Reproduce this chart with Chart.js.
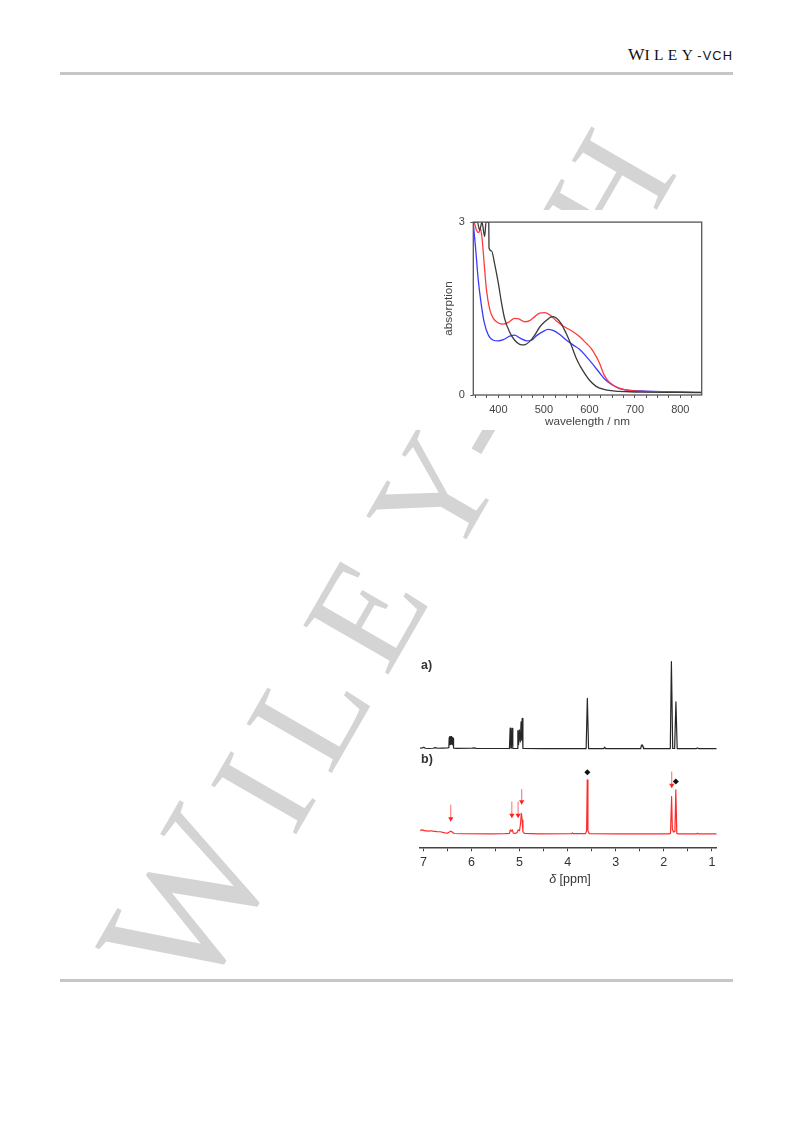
<!DOCTYPE html>
<html>
<head>
<meta charset="utf-8">
<script src="https://cdn.jsdelivr.net/npm/chart.js@4.4.1/dist/chart.umd.min.js"></script>
<style>
  html, body { margin:0; padding:0; background:#fff; }
  body { width:793px; height:1121px; position:relative; overflow:hidden; font-family:'Liberation Sans', Arial, sans-serif; }
  .rule { position:absolute; left:60px; width:673px; height:2.5px; background:#c6c6c6; }
  #header { position:absolute; right:60px; top:44px; white-space:nowrap; color:#111; line-height:20px; }
  #header .w { font-family:'Liberation Serif', 'Times New Roman', serif; font-size:17.5px; }
  #header .s { font-family:'Liberation Serif', 'Times New Roman', serif; font-size:15.5px; letter-spacing:4.4px; }
  #header .v { font-family:'Liberation Sans', Arial, sans-serif; font-size:12.8px; letter-spacing:1.1px; }
  #wm { position:absolute; left:197px; top:1006px; transform-origin:0 0; transform:rotate(-60deg); z-index:0; }
  #wm div { position:absolute; left:0; top:-125.6px; font-family:'Liberation Serif', 'Times New Roman', serif; font-size:150px; line-height:150px; letter-spacing:10px; color:#d4d4d4; white-space:nowrap; }
  #wm .big { font-size:180px; line-height:0; }
  canvas { position:absolute; background:#fff; z-index:1; }
  #uv { left:400px; top:210px; }
  #nmr { left:405px; top:650px; }
  .lab { position:absolute; z-index:2; font-family:'Liberation Sans', Arial, sans-serif; color:#333; font-size:12.5px; font-weight:bold; }
  #nmrTitle { position:absolute; z-index:2; left:520px; width:100px; text-align:center; top:872px; font-family:'Liberation Sans', Arial, sans-serif; font-size:12.5px; color:#333; }
</style>
</head>
<body>
<div id="header"><span class="w">W</span><span class="s">ILEY</span><span class="v">-VCH</span></div>
<div class="rule" style="top:72px"></div>
<div class="rule" style="top:979px"></div>
<div id="wm"><div><span class="big" style="margin-right:13px">W</span><span style="margin-right:12px">I</span><span style="margin-right:12px">L</span><span style="margin-right:27px">E</span><span style="margin-right:-11px">Y</span><span style="margin-right:-16px">-</span><span style="margin-right:-16px">V</span><span style="margin-right:-16px">C</span><span>H</span></div></div>

<canvas id="uv" width="320" height="220"></canvas>
<canvas id="nmr" width="320" height="245"></canvas>
<div class="lab" style="left:421px; top:658px;">a)</div>
<div class="lab" style="left:421px; top:752px;">b)</div>
<div id="nmrTitle"><i>δ</i> [ppm]</div>

<script>
// ---------- UV-vis data: [wavelength nm, absorption] ----------
const uvBlack = [[345,3],[354,3],[359,2.86],[364,3],[370,2.75],[373,3],[379,3],[379.5,2.55],[385,2.5],[392,2.27],[400,1.94],[407,1.6],[414,1.32],[425,1.09],[436,0.95],[447,0.88],[457,0.87],[469,0.93],[480,1.04],[491,1.18],[502,1.27],[508,1.31],[515,1.35],[521,1.36],[528,1.33],[538,1.24],[549,1.07],[560,0.87],[571,0.64],[580,0.5],[590,0.37],[600,0.26],[615,0.15],[630,0.1],[652,0.07],[688,0.056],[720,0.05],[800,0.045],[847,0.04]];
const uvRed = [[347,3],[352,2.86],[357,2.82],[361,2.88],[365,2.66],[369,2.27],[374,1.82],[381,1.49],[389,1.33],[400,1.25],[411,1.23],[422,1.26],[436,1.33],[445,1.32],[458,1.27],[469,1.29],[480,1.36],[491,1.42],[502,1.43],[513,1.39],[527,1.29],[546,1.18],[560,1.12],[579,1.01],[593,0.9],[604,0.81],[615,0.67],[622,0.56],[633,0.34],[644,0.22],[659,0.14],[677,0.095],[695,0.073],[761,0.056],[847,0.045]];
const uvBlue = [[345,2.97],[350,2.55],[356,1.99],[362,1.6],[369,1.26],[378,1.04],[389,0.95],[400,0.94],[411,0.96],[425,1.02],[436,1.04],[447,0.99],[462,0.94],[473,0.95],[484,1.03],[498,1.1],[509,1.14],[520,1.12],[535,1.05],[550,0.95],[564,0.87],[579,0.79],[593,0.67],[608,0.53],[622,0.39],[637,0.25],[652,0.17],[666,0.11],[685,0.084],[725,0.067],[847,0.045]];
const uvXTicks = [350,375,400,425,450,475,500,525,550,575,600,625,650,675,700,725,750,775,800,825];
const uvXLabels = [400,500,600,700,800];
const uvYTicks = [0,3];

// ---------- 1H NMR data: [ppm, intensity] ----------
const nmrTraceA = [[7.07,0.01],[7.02,0.012],[6.99,0.02],[6.96,0.008],[6.9,0.005],[6.8,0.008],[6.75,0.015],[6.7,0.008],[6.6,0.01],[6.5,0.012],
  [6.47,0.015],[6.463,0.13],[6.456,0.05],[6.449,0.14],[6.442,0.06],[6.435,0.14],[6.428,0.05],[6.421,0.14],[6.414,0.06],[6.407,0.14],[6.4,0.05],[6.393,0.13],[6.386,0.05],[6.38,0.12],[6.372,0.01],
  [6.3,0.006],[6.0,0.008],[5.95,0.012],[5.9,0.006],[5.5,0.005],
  [5.21,0.005],[5.195,0.24],[5.18,0.01],[5.17,0.01],[5.152,0.235],[5.14,0.005],
  [5.05,0.005],[5.035,0.21],[5.02,0.05],[5.005,0.22],[4.985,0.08],[4.968,0.31],[4.955,0.1],[4.945,0.35],[4.93,0.005],
  [4.5,0.004],[3.615,0.004],[3.59,0.58],[3.565,0.004],
  [3.25,0.004],[3.23,0.02],[3.21,0.004],
  [2.48,0.004],[2.465,0.045],[2.455,0.035],[2.445,0.046],[2.43,0.02],[2.42,0.004],
  [1.865,0.004],[1.842,1.0],[1.815,0.005],[1.775,0.005],[1.748,0.54],[1.722,0.004],
  [1.32,0.004],[1.3,0.012],[1.28,0.004],[0.9,0.004]];
const nmrTraceB = [[7.07,0.045],[7.02,0.05],[6.98,0.04],[6.9,0.035],[6.85,0.04],[6.8,0.035],[6.72,0.03],[6.65,0.028],[6.55,0.015],[6.5,0.012],[6.46,0.025],[6.43,0.035],[6.4,0.025],[6.36,0.008],[6.2,0.005],[5.6,0.004],[5.3,0.006],
  [5.21,0.01],[5.19,0.05],[5.17,0.035],[5.15,0.05],[5.13,0.012],[5.08,0.01],[5.05,0.02],[5.03,0.05],[5.0,0.04],[4.98,0.12],[4.962,0.24],[4.945,0.16],[4.93,0.03],[4.9,0.01],
  [4.6,0.004],[3.92,0.006],[3.9,0.015],[3.88,0.006],[3.63,0.006],[3.605,0.04],[3.592,0.622],[3.578,0.04],[3.55,0.006],
  [3.0,0.003],[2.5,0.003],[1.9,0.004],[1.86,0.01],[1.838,0.43],[1.822,0.06],[1.8,0.025],[1.78,0.03],[1.768,0.05],[1.75,0.507],[1.73,0.01],[1.7,0.004],
  [1.32,0.004],[1.3,0.01],[1.28,0.004],[0.9,0.004]];
const nmrXTicks = [1,1.5,2,2.5,3,3.5,4,4.5,5,5.5,6,6.5,7];
const nmrArrows = [[6.43,0.337,0.144],[5.16,0.374,0.183],[5.03,0.374,0.183],[4.955,0.517,0.337],[1.835,0.718,0.527]]; // [ppm, top, tip]
const nmrDiamonds = [[3.59,0.71],[1.75,0.605]];
const nmrOffsetA = 0.977;

Chart.defaults.font.family = "'Liberation Sans', Arial, sans-serif";

const xy = arr => arr.map(([x, y]) => ({x, y}));

// ---------- UV-vis chart ----------
const uvFrame = {
  id: 'uvFrame',
  afterDatasetsDraw(chart) {
    const {ctx, chartArea: a} = chart;
    ctx.save();
    ctx.strokeStyle = '#555';
    ctx.lineWidth = 1.3;
    ctx.strokeRect(a.left, a.top, a.right - a.left, a.bottom - a.top);
    ctx.restore();
  }
};

new Chart(document.getElementById('uv'), {
  type: 'line',
  data: {
    datasets: [
      {data: xy(uvBlack), borderColor: '#3a3a3a', borderWidth: 1.3, pointRadius: 0, cubicInterpolationMode: 'monotone'},
      {data: xy(uvRed), borderColor: '#ff3b3b', borderWidth: 1.3, pointRadius: 0, cubicInterpolationMode: 'monotone'},
      {data: xy(uvBlue), borderColor: '#3b3bff', borderWidth: 1.3, pointRadius: 0, cubicInterpolationMode: 'monotone'}
    ]
  },
  options: {
    responsive: false, animation: false, events: [],
    layout: {padding: {left: 0, right: 18.3, top: 6.5, bottom: 0}},
    plugins: {legend: {display: false}, tooltip: {enabled: false}},
    scales: {
      x: {
        type: 'linear', min: 345, max: 847,
        afterBuildTicks: s => { s.ticks = uvXTicks.map(v => ({value: v})); },
        afterFit: s => { s.height = 35; },
        grid: {display: true, drawOnChartArea: false, drawTicks: true, tickLength: 3, color: '#555', lineWidth: 1},
        border: {display: false},
        ticks: {padding: 5.5, color: '#444', font: {size: 11}, autoSkip: false, maxRotation: 0,
          callback: v => uvXLabels.includes(v) ? String(v) : ''},
        title: {display: true, text: 'wavelength / nm', color: '#444', font: {size: 11.7}, padding: {top: 0, bottom: 1.3}}
      },
      y: {
        min: 0, max: 3,
        afterBuildTicks: s => { s.ticks = uvYTicks.map(v => ({value: v})); },
        afterFit: s => { s.width = 73.3; },
        grid: {display: true, drawOnChartArea: false, drawTicks: true, tickLength: 3, color: '#555', lineWidth: 1},
        border: {display: false},
        ticks: {padding: 5.5, color: '#444', font: {size: 11}, autoSkip: false},
        title: {display: true, text: 'absorption', color: '#444', font: {size: 11.7}, padding: {top: 42, bottom: 0}}
      }
    }
  },
  plugins: [uvFrame]
});

// ---------- NMR chart ----------
const nmrMarks = {
  id: 'nmrMarks',
  afterDatasetsDraw(chart) {
    const {ctx, scales: {x, y}} = chart;
    ctx.save();
    nmrArrows.forEach(([p, top, tip]) => {
      const px = x.getPixelForValue(p);
      const yt = y.getPixelForValue(top), yp = y.getPixelForValue(tip);
      ctx.strokeStyle = '#ff6a6a'; ctx.lineWidth = 1;
      ctx.beginPath(); ctx.moveTo(px, yt); ctx.lineTo(px, yp - 3); ctx.stroke();
      ctx.fillStyle = '#ff2020';
      ctx.beginPath(); ctx.moveTo(px - 2.6, yp - 4.5); ctx.lineTo(px + 2.6, yp - 4.5); ctx.lineTo(px, yp); ctx.closePath(); ctx.fill();
    });
    nmrDiamonds.forEach(([p, v]) => {
      const px = x.getPixelForValue(p), py = y.getPixelForValue(v);
      ctx.fillStyle = '#111';
      ctx.beginPath(); ctx.moveTo(px, py - 3); ctx.lineTo(px + 3, py); ctx.lineTo(px, py + 3); ctx.lineTo(px - 3, py); ctx.closePath(); ctx.fill();
    });
    ctx.restore();
  }
};

new Chart(document.getElementById('nmr'), {
  type: 'line',
  data: {
    datasets: [
      {data: nmrTraceA.map(([p, v]) => ({x: p, y: v + nmrOffsetA})), borderColor: '#262626', borderWidth: 1.2, pointRadius: 0, tension: 0, borderJoinStyle: 'round'},
      {data: xy(nmrTraceB), borderColor: '#ff2a2a', borderWidth: 1.2, pointRadius: 0, tension: 0, borderJoinStyle: 'round'}
    ]
  },
  options: {
    responsive: false, animation: false, events: [],
    layout: {padding: {left: 15, right: 8.3, top: 4.4, bottom: 0}},
    plugins: {legend: {display: false}, tooltip: {enabled: false}},
    scales: {
      x: {
        type: 'linear', reverse: true, min: 0.9, max: 7.07,
        afterBuildTicks: s => { s.ticks = nmrXTicks.map(v => ({value: v})); },
        afterFit: s => { s.height = 47.7; },
        grid: {display: true, drawOnChartArea: false, drawTicks: true, tickLength: 4, color: '#444', lineWidth: 1},
        border: {display: true, color: '#444', width: 1.5},
        ticks: {padding: 4, color: '#333', font: {size: 12.5}, autoSkip: false, maxRotation: 0,
          callback: v => Number.isInteger(v) ? String(v) : ''}
      },
      y: {display: false, min: -0.15, max: 2.06}
    }
  },
  plugins: [nmrMarks]
});
</script>
</body>
</html>
